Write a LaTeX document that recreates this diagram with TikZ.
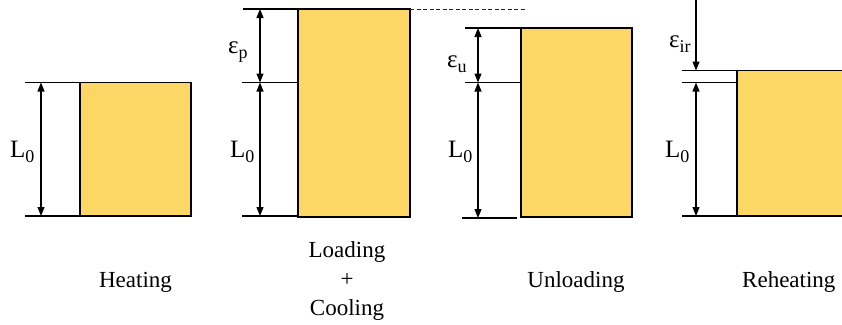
\documentclass[tikz,border=0pt]{standalone}
\usepackage{fontspec}
\setmainfont{Liberation Serif}
\usetikzlibrary{arrows.meta}
\definecolor{barfill}{RGB}{252,215,102}
\newcommand{\lsub}[1]{\raisebox{-5pt}{\fontsize{18}{18}\selectfont #1}}
\begin{document}
\begin{tikzpicture}[x=1pt,y=-1pt,
  guide/.style={line width=1.2pt},
  dimarrow/.style={line width=1.2pt,{Triangle[length=9pt,width=7pt]}-{Triangle[length=9pt,width=7pt]}},
  onearrow/.style={line width=1.2pt,-{Triangle[length=9pt,width=7pt]}},
  block/.style={fill=barfill,draw=black,line width=1.2pt},
  lbl/.style={font=\fontsize{23}{29}\selectfont,inner sep=0pt,align=center},
  sym/.style={font=\fontsize{25}{29}\selectfont,inner sep=0pt},
]
\useasboundingbox (0,0) rectangle (842,324);
\clip (0,0) rectangle (842,324);

% ---------- Panel 1: Heating
\draw[block] (80,82.5) rectangle (191,216);
\coordinate (a1t) at (41,82.5);
\coordinate (a1b) at (41,216);
\coordinate (g1tl) at (25,82.5); \coordinate (g1tr) at (80,82.5);
\coordinate (g1bl) at (25,216);  \coordinate (g1br) at (80,216);
\draw[guide] (g1tl) -- (g1tr);
\draw[guide] (g1bl) -- (g1br);
\draw[dimarrow] (a1t) -- (a1b);
\node[sym,anchor=base west] (l1) at (10,157) {L\lsub{0}};
\node[lbl,anchor=base] (t1) at (135.5,287) {Heating};

% ---------- Panel 2: Loading + Cooling
\draw[block] (298,9) rectangle (410,217);
\coordinate (g2tl) at (243,9);   \coordinate (g2tr) at (298,9);
\coordinate (g2ml) at (242,82.5);\coordinate (g2mr) at (298,82.5);
\coordinate (g2bl) at (242,216); \coordinate (g2br) at (298,216);
\draw[guide] (g2tl) -- (g2tr);
\draw[guide] (g2ml) -- (g2mr);
\draw[guide] (g2bl) -- (g2br);
\coordinate (a2t) at (260,9);
\coordinate (a2m) at (260,82.5);
\coordinate (a2b) at (260,216);
\draw[dimarrow] (a2t) -- (a2m);
\draw[dimarrow] (a2m) -- (a2b);
\coordinate (d2s) at (410,9); \coordinate (d2e) at (527,9);
\draw[line width=0.9pt,dash pattern=on 4pt off 2.5pt,black!85] (d2s) -- (d2e);
\node[sym,anchor=base west] (e2) at (228,53) {ε\lsub{p}};
\node[sym,anchor=base west] (l2) at (230,157) {L\lsub{0}};
\node[lbl,anchor=north] (t2) at (347,241.5) {Loading\\+\\Cooling};

% ---------- Panel 3: Unloading
\draw[block] (521,28) rectangle (632,217);
\coordinate (g3tl) at (465,28);  \coordinate (g3tr) at (521,28);
\coordinate (g3ml) at (465,82.5);\coordinate (g3mr) at (521,82.5);
\coordinate (g3bl) at (462,218); \coordinate (g3br) at (517,218);
\draw[guide] (g3tl) -- (g3tr);
\draw[guide] (g3ml) -- (g3mr);
\draw[guide] (g3bl) -- (g3br);
\coordinate (a3t) at (478,28);
\coordinate (a3m) at (478,82.5);
\coordinate (a3b) at (478,218);
\draw[dimarrow] (a3t) -- (a3m);
\draw[dimarrow] (a3m) -- (a3b);
\node[sym,anchor=base west] (e3) at (447,67) {ε\lsub{u}};
\node[sym,anchor=base west] (l3) at (448,157) {L\lsub{0}};
\node[lbl,anchor=base] (t3) at (576,287) {Unloading};

% ---------- Panel 4: Reheating
\draw[block] (737,70.5) rectangle (850,216);
\coordinate (g4tl) at (682,70.5);\coordinate (g4tr) at (737,70.5);
\coordinate (g4ml) at (682,82.5);\coordinate (g4mr) at (737,82.5);
\coordinate (g4bl) at (682,216); \coordinate (g4br) at (737,216);
\draw[guide] (g4tl) -- (g4tr);
\draw[guide] (g4ml) -- (g4mr);
\draw[guide] (g4bl) -- (g4br);
\coordinate (a4s) at (696,0);
\coordinate (a4t) at (696,70.5);
\coordinate (a4m) at (696,82.5);
\coordinate (a4b) at (696,216);
\draw[onearrow] (a4s) -- (a4t);
\draw[dimarrow] (a4m) -- (a4b);
\node[sym,anchor=base west] (e4) at (669,47) {ε\lsub{ir}};
\node[sym,anchor=base west] (l4) at (665,157) {L\lsub{0}};
\node[lbl,anchor=base west] (t4) at (742,287) {Reheating};
\end{tikzpicture}
\end{document}
